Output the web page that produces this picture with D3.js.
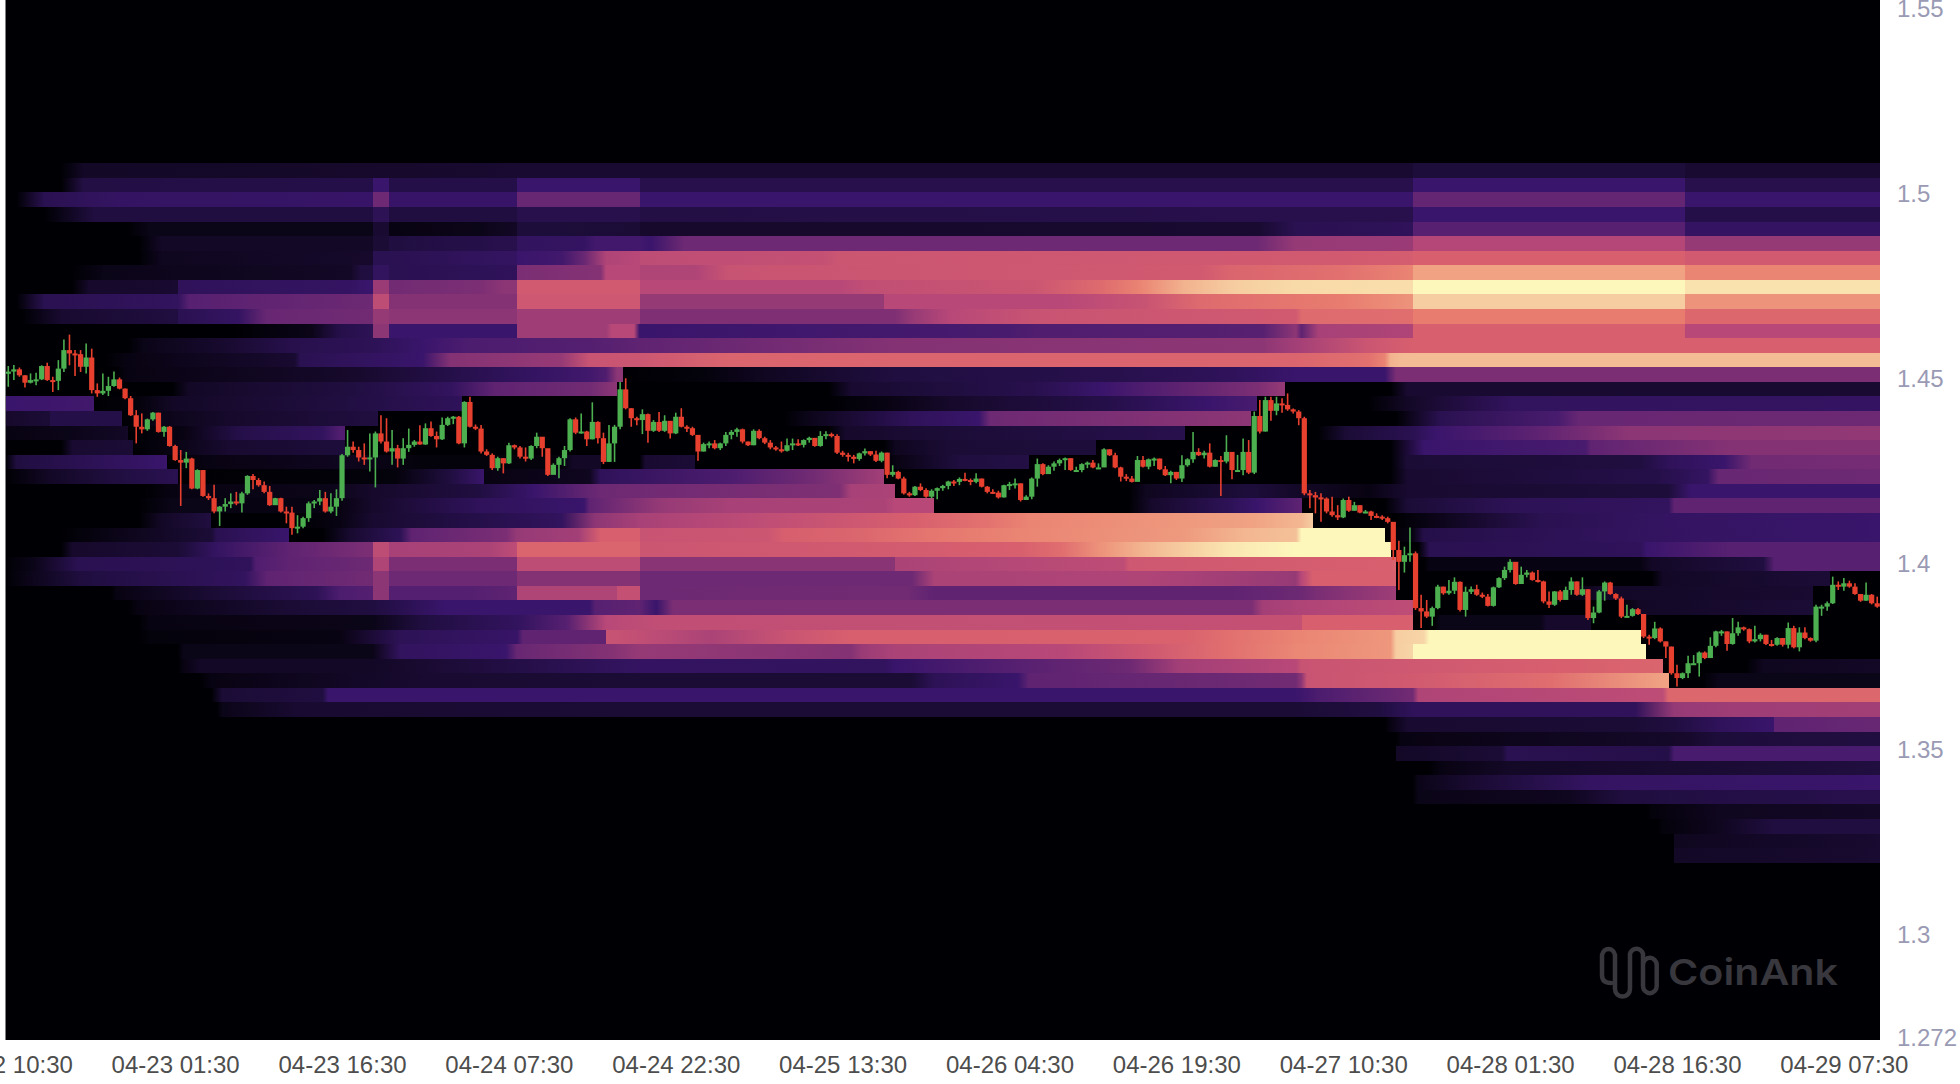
<!DOCTYPE html>
<html><head><meta charset="utf-8">
<script src="https://cdn.jsdelivr.net/npm/d3@7"></script>
<style>html,body{margin:0;padding:0;background:#fff;overflow:hidden}svg{display:block}text{font-family:"Liberation Sans",Arial,sans-serif}</style>
</head><body><svg id="c" width="1960" height="1084"></svg>
<script>
const priceTicks=[1.272,1.3,1.35,1.4,1.45,1.5,1.55];
const timeTickIdx=[0,30,60,90,120,150,180,210,240,270,300,330];
const timeTickLabels=["04-22 10:30","04-23 01:30","04-23 16:30","04-24 07:30","04-24 22:30","04-25 13:30","04-26 04:30","04-26 19:30","04-27 10:30","04-28 01:30","04-28 16:30","04-29 07:30"];
const heatLevels=[0,.05,.1,.2,.3,.4,.5,.6,.7,.8,.9,1];
const heatColors=["#000004","#130826","#200e40","#39156b","#5f2372","#8d3675","#b84878","#d75f6e","#e87c6f","#f0a283","#f6cda0","#fdf7bc"];
// price x 10000, one value per 30 min candle
const closes=[14526,14532,14516,14496,14503,14505,14541,14503,14501,14534,14584,14575,14573,14539,14564,14476,14467,14474,14487,14505,14480,14454,14408,14377,14370,14397,14415,14363,14377,14325,14287,14280,14291,14210,14260,14190,14184,14148,14161,14168,14175,14170,14197,14244,14233,14219,14201,14165,14184,14148,14145,14103,14107,14130,14170,14175,14184,14148,14161,14184,14300,14323,14314,14294,14291,14294,14359,14337,14310,14319,14291,14319,14328,14337,14329,14373,14352,14343,14382,14400,14404,14332,14444,14377,14372,14310,14301,14265,14292,14278,14327,14321,14296,14291,14325,14350,14319,14247,14274,14292,14314,14397,14361,14364,14343,14390,14346,14282,14332,14377,14478,14427,14400,14395,14411,14366,14390,14366,14393,14359,14404,14377,14373,14355,14310,14330,14332,14319,14332,14355,14363,14370,14337,14327,14366,14346,14334,14321,14316,14312,14327,14332,14328,14341,14347,14325,14352,14357,14352,14307,14301,14296,14290,14305,14311,14302,14285,14307,14247,14255,14237,14197,14192,14215,14206,14188,14204,14211,14217,14229,14228,14236,14233,14228,14237,14215,14201,14199,14186,14219,14222,14224,14179,14188,14237,14276,14249,14269,14278,14287,14292,14260,14260,14276,14280,14267,14267,14316,14300,14267,14242,14237,14228,14287,14269,14289,14291,14262,14246,14255,14237,14273,14289,14309,14300,14307,14269,14287,14283,14309,14260,14260,14309,14253,14406,14364,14449,14420,14440,14436,14424,14418,14400,14197,14192,14186,14183,14148,14138,14132,14179,14150,14165,14145,14148,14136,14134,14130,14120,14044,14012,14030,14035,13887,13878,13864,13887,13945,13927,13934,13958,13882,13931,13938,13923,13918,13893,13943,13968,13990,14012,13952,13977,13983,13963,13959,13905,13896,13932,13909,13936,13959,13923,13938,13860,13875,13932,13956,13925,13913,13864,13866,13884,13871,13810,13806,13832,13797,13783,13711,13698,13711,13738,13738,13767,13752,13785,13824,13824,13790,13819,13835,13830,13797,13803,13815,13790,13788,13806,13788,13833,13781,13821,13806,13799,13891,13891,13900,13950,13945,13954,13945,13925,13907,13923,13900,13891];
const highs=[14541,14544,14537,14516,14521,14523,14543,14550,14512,14557,14613,14626,14584,14584,14602,14588,14494,14521,14512,14526,14510,14480,14460,14422,14413,14399,14417,14415,14379,14379,14328,14314,14309,14293,14262,14258,14197,14220,14163,14184,14197,14201,14201,14246,14249,14238,14229,14217,14185,14185,14161,14161,14138,14134,14175,14179,14206,14201,14197,14208,14303,14368,14337,14323,14332,14359,14364,14408,14400,14368,14328,14346,14372,14341,14381,14386,14391,14364,14402,14404,14406,14406,14446,14458,14383,14382,14316,14305,14296,14292,14334,14329,14325,14321,14327,14361,14348,14316,14278,14296,14325,14400,14402,14413,14366,14443,14392,14361,14382,14382,14498,14508,14427,14404,14424,14413,14395,14417,14408,14391,14415,14427,14381,14377,14355,14334,14337,14341,14334,14363,14368,14374,14372,14337,14370,14370,14350,14341,14325,14337,14345,14345,14343,14343,14350,14345,14365,14365,14361,14357,14312,14307,14301,14307,14318,14311,14312,14310,14307,14273,14258,14242,14201,14217,14224,14211,14208,14213,14220,14231,14233,14240,14253,14237,14251,14237,14217,14208,14204,14220,14228,14237,14224,14192,14240,14291,14278,14273,14283,14291,14294,14292,14269,14278,14283,14287,14278,14319,14316,14307,14269,14249,14244,14298,14298,14291,14294,14291,14271,14258,14255,14300,14292,14363,14319,14312,14332,14289,14298,14354,14309,14301,14345,14341,14418,14449,14458,14458,14458,14454,14467,14426,14422,14404,14206,14201,14197,14186,14188,14165,14183,14188,14174,14165,14152,14150,14143,14138,14134,14103,14069,14053,14105,14040,13923,13909,13891,13950,13945,13963,13970,13959,13945,13945,13950,13929,13925,13945,13970,13999,14019,14006,13999,13990,13986,13990,13961,13932,13933,13936,13945,13970,13959,13970,13938,13891,13936,13959,13958,13927,13918,13896,13887,13887,13871,13815,13850,13835,13797,13783,13734,13713,13758,13760,13770,13770,13808,13826,13828,13824,13860,13850,13837,13832,13839,13819,13815,13801,13808,13806,13848,13839,13835,13835,13808,13896,13896,13905,13972,13959,13968,13961,13954,13925,13956,13925,13918];
const lows=[14485,14503,14512,14483,14494,14489,14503,14501,14471,14476,14525,14543,14514,14525,14521,14467,14458,14463,14460,14485,14478,14451,14406,14332,14359,14366,14393,14361,14350,14323,14285,14163,14265,14208,14208,14188,14179,14143,14109,14148,14157,14165,14145,14193,14208,14215,14197,14163,14170,14145,14116,14085,14089,14103,14120,14157,14165,14145,14143,14136,14177,14296,14307,14283,14274,14256,14213,14332,14307,14274,14267,14274,14309,14323,14328,14328,14350,14321,14341,14379,14384,14330,14321,14375,14368,14305,14298,14260,14258,14251,14276,14316,14291,14283,14287,14319,14296,14244,14249,14238,14271,14310,14357,14359,14325,14343,14332,14276,14282,14282,14370,14424,14377,14381,14357,14334,14363,14363,14363,14345,14357,14375,14363,14352,14285,14310,14319,14316,14314,14325,14343,14350,14332,14325,14327,14343,14330,14316,14312,14307,14310,14314,14325,14321,14334,14323,14323,14343,14348,14303,14296,14283,14278,14285,14299,14298,14282,14281,14238,14242,14235,14194,14188,14190,14203,14185,14183,14181,14204,14208,14217,14219,14230,14219,14224,14213,14197,14195,14183,14186,14206,14210,14175,14181,14181,14215,14246,14253,14258,14271,14260,14258,14257,14254,14265,14265,14264,14269,14298,14265,14229,14230,14226,14233,14267,14262,14271,14260,14244,14224,14233,14228,14269,14280,14298,14291,14267,14269,14190,14278,14235,14257,14246,14249,14249,14359,14364,14393,14408,14415,14420,14413,14381,14192,14157,14143,14120,14143,14134,14125,14130,14147,14150,14143,14143,14125,14130,14125,14116,14017,13936,13983,14012,13882,13833,13860,13839,13884,13923,13923,13925,13878,13864,13925,13920,13914,13891,13891,13941,13963,13983,13950,13952,13970,13961,13956,13900,13887,13893,13905,13911,13923,13920,13920,13855,13846,13873,13907,13923,13909,13860,13862,13864,13868,13806,13788,13803,13794,13752,13707,13675,13695,13698,13734,13702,13749,13754,13781,13812,13772,13788,13812,13826,13792,13794,13797,13787,13783,13785,13783,13778,13778,13770,13803,13796,13795,13866,13880,13898,13936,13934,13942,13923,13904,13907,13897,13888];
const firstOpen=14520;
// rows top to bottom; each row is candle index, heat level, candle index, heat level ...
const heatRows=[
[0,0,10,0,14,.05,66,.06,92,.07,253,.07,253,.09,302,.09,302,.07,337,.07],
[0,0,10,0,14,.11,66,.12,66,.2,69,.2,69,.12,92,.12,92,.2,114,.2,114,.13,253,.13,253,.2,302,.2,302,.13,337,.13],
[0,0,2,0,7,.14,20,.18,66,.19,66,.33,69,.33,69,.19,92,.19,92,.32,114,.32,114,.2,253,.2,253,.31,302,.31,302,.2,337,.2],
[0,0,7,0,16,.1,66,.1,66,.15,69,.15,69,.1,92,.1,92,.13,114,.13,114,.11,253,.13,253,.2,302,.2,302,.12,337,.12],
[0,0,22,0,26,.03,66,.03,66,.07,69,.07,69,.02,85,.03,92,.05,92,.09,114,.08,114,.06,225,.07,232,.14,253,.16,253,.28,302,.28,302,.18,337,.18],
[0,0,24,0,28,.05,66,.05,66,.08,69,.08,69,.1,92,.13,92,.17,104,.18,106,.22,114,.22,116,.2,122,.33,225,.33,232,.42,253,.43,253,.49,302,.49,302,.42,337,.42],
[0,0,24,0,28,.04,66,.06,66,.14,69,.14,92,.18,92,.2,100,.22,104,.32,108,.48,114,.5,114,.52,147,.54,150,.56,240,.58,253,.59,253,.6,302,.6,302,.58,337,.58],
[0,0,12,0,18,.03,62,.05,64,.1,66,.1,66,.17,69,.17,69,.14,92,.16,92,.36,107,.38,108,.5,114,.5,114,.48,124,.48,130,.55,215,.58,220,.62,240,.66,253,.72,253,.8,302,.8,302,.72,337,.72],
[0,0,12,0,15,.06,31,.07,31,.16,62,.18,65,.2,66,.2,66,.43,69,.43,69,.34,85,.36,90,.4,92,.4,92,.58,114,.58,114,.5,150,.5,155,.53,185,.56,197,.64,204,.72,212,.84,221,.9,232,.93,253,.94,253,1,302,1,302,.95,337,.95],
[0,0,2,0,7,.14,31,.17,33,.28,66,.33,66,.52,69,.52,69,.38,92,.38,92,.57,114,.57,114,.42,158,.42,158,.5,190,.5,205,.55,215,.64,240,.7,253,.76,253,.9,302,.9,302,.76,337,.76],
[0,0,3,0,10,.07,31,.1,31,.14,42,.18,47,.32,66,.34,66,.42,69,.42,69,.4,92,.4,92,.44,114,.44,114,.37,160,.37,163,.42,170,.5,185,.55,232,.58,233,.64,253,.65,253,.7,302,.7,302,.63,337,.63],
[0,0,41,0,55,.03,60,.12,66,.15,66,.4,69,.4,69,.2,92,.2,92,.44,108,.44,109,.5,113,.5,114,.2,180,.24,185,.26,226,.28,232,.4,233,.3,236,.46,253,.48,253,.6,302,.6,302,.5,337,.5],
[0,0,22,0,25,.03,40,.07,52,.13,66,.15,75,.2,83,.25,105,.27,114,.3,160,.38,226,.4,232,.45,245,.56,253,.6,337,.6],
[0,0,18,0,22,.02,52,.07,53,.14,75,.2,80,.38,100,.42,105,.55,114,.56,130,.62,232,.62,245,.66,248,.72,249,.84,251,.86,337,.86],
[0,0,20,0,22,.02,62,.06,80,.12,95,.18,105,.22,108,.26,110,.4,111,.4,111,0,125,.01,135,.04,160,.1,200,.13,220,.16,232,.2,248,.2,250,.36,337,.36],
[0,0,30,0,33,.05,62,.1,80,.17,88,.3,105,.34,110,.4,110,0,148,0,152,.07,165,.09,185,.13,197,.2,205,.26,225,.36,230,.42,230,0,249,0,252,.07,337,.07],
[0,.2,16,.22,16,0,24,.01,30,.05,60,.1,82,.16,82,0,148,0,158,.02,170,.06,198,.12,216,.2,225,.24,225,0,245,0,252,.05,271,.17,337,.18],
[0,.06,8,.08,8,.12,21,.12,21,0,28,.03,40,.06,67,.1,67,0,140,0,144,.03,163,.16,175,.2,177,.33,224,.4,224,0,250,0,258,.14,279,.24,283,.32,337,.33],
[0,.02,11,.03,22,.05,22,0,32,.02,42,.12,57,.17,60,.26,61,.26,61,0,148,0,151,.06,168,.08,212,.13,212,0,236,0,241,.08,253,.14,257,.2,276,.3,292,.4,337,.41],
[0,0,10,0,12,.07,23,.08,23,0,32,.03,40,.07,61,.09,61,0,158,0,160,.04,170,.08,196,.09,196,0,249,0,255,.2,284,.24,285,.3,310,.38,337,.38],
[0,0,2,.1,29,.2,29,0,36,.02,60,.04,75,.01,100,.01,102,.05,107,.05,107,0,114,0,115,.07,124,.08,124,0,158,0,160,.02,172,.1,184,.11,184,0,249,0,252,.08,294,.1,299,.16,309,.2,314,.34,337,.35],
[0,0,8,.05,20,.1,31,.14,31,0,70,.01,80,.1,86,.2,86,.02,105,.04,107,.16,130,.25,145,.34,158,.45,158,0,249,0,252,.07,297,.12,306,.18,308,.32,337,.33],
[0,0,25,0,30,.02,58,.03,66,.06,85,.1,95,.2,107,.33,150,.37,152,.46,160,.47,160,0,202,0,205,.04,224,.09,233,.05,245,.02,252,.07,299,.09,303,.2,337,.2],
[0,0,24,0,30,.03,37,.03,37,.02,60,.02,66,.06,85,.16,104,.2,105,.3,118,.42,130,.46,158,.47,160,.5,167,.5,167,0,202,0,206,.06,220,.15,225,.2,233,.3,233,0,248,0,252,.08,271,.15,299,.17,300,.3,337,.3],
[0,0,24,0,28,.05,37,.1,37,0,52,0,60,.02,66,.07,85,.12,100,.17,106,.4,114,.46,120,.48,135,.52,150,.56,163,.6,177,.67,184,.72,210,.77,224,.8,233,.85,235,.9,235,0,250,0,255,.02,276,.14,299,.18,337,.2],
[0,0,10,0,20,.03,37,.08,38,.14,51,.2,51,0,57,0,62,.07,71,.15,73,.3,90,.36,92,.42,103,.45,107,.6,114,.6,114,.55,137,.56,140,.6,152,.62,167,.68,182,.72,212,.78,223,.85,232,.87,233,1,248,1,248,0,253,.02,255,.12,300,.18,337,.2],
[0,0,10,0,12,.06,31,.08,38,.18,51,.3,65,.36,66,.36,66,.52,69,.52,69,.46,87,.47,92,.52,92,.62,114,.62,114,.56,152,.58,182,.6,190,.65,197,.76,205,.85,220,.96,232,1,249,1,249,0,254,0,256,.14,294,.16,295,.2,310,.28,337,.28],
[0,0,5,.03,13,.14,44,.16,45,.26,51,.3,66,.33,66,.48,69,.48,69,.36,92,.36,92,.52,114,.52,114,.39,160,.39,160,.47,201,.52,202,.57,249,.6,250,.62,250,0,255,0,256,.02,294,.02,296,.05,316,.1,318,.28,337,.28],
[0,0,4,.03,14,.1,43,.17,47,.3,66,.34,66,.4,69,.4,69,.33,92,.33,92,.38,114,.38,114,.33,163,.33,167,.47,205,.48,232,.42,233,.5,235,.6,250,.6,250,0,296,0,298,.05,328,.08,328,0,337,0],
[0,0,19,0,20,.02,38,.08,56,.15,60,.25,66,.27,66,.4,69,.4,69,.27,83,.27,92,.3,92,.48,110,.48,110,.54,114,.54,114,.33,162,.34,167,.3,220,.3,233,.33,236,.36,250,.44,250,0,280,0,286,.05,325,.07,325,0,337,0],
[0,0,22,0,24,.02,52,.08,66,.1,69,.12,79,.2,105,.2,106,.28,114,.3,117,.2,120,.36,224,.36,226,.45,233,.48,253,.52,253,0,290,0,294,.05,325,.08,325,0,337,0],
[0,0,24,0,26,.02,66,.03,75,.1,92,.17,101,.28,108,.5,114,.52,119,.53,233,.54,233,.6,253,.6,253,0,257,0,258,.03,276,.03,277,.06,285,.06,285,0,337,0],
[0,0,24,0,26,.01,60,.02,71,.15,92,.19,93,.3,108,.3,108,.55,114,.53,127,.47,140,.55,152,.6,212,.61,220,.66,232,.72,249,.77,250,.9,255,.92,256,1,294,1,294,0,337,0],
[0,0,31,0,32,.03,66,.03,71,.17,90,.2,92,.32,109,.38,114,.42,152,.38,154,.43,160,.47,190,.5,205,.57,220,.66,232,.73,249,.77,250,.9,253,.92,253,1,295,1,295,0,337,0],
[0,0,31,0,32,.02,35,.05,66,.05,97,.13,114,.18,158,.17,160,.2,182,.28,202,.33,211,.45,232,.5,233,.55,280,.6,298,.62,298,0,313,0,316,.04,337,.05],
[0,0,35,0,37,.02,75,.07,114,.08,163,.08,167,.15,182,.2,184,.3,232,.34,233,.4,234,.55,253,.58,278,.65,298,.8,299,.8,299,0,305,0,308,.03,337,.03],
[0,0,37,0,39,.08,57,.1,58,.2,232,.2,236,.25,253,.34,254,.48,298,.52,299,.63,337,.63],
[0,0,38,0,39,.03,52,.07,114,.08,232,.08,247,.1,253,.16,293,.16,300,.42,310,.44,337,.45],
[0,0,248,0,249,.02,252,.07,293,.08,300,.1,308,.16,318,.2,318,.3,337,.32],
[0,0,250,0,251,.02,293,.05,302,.06,308,.09,337,.1],
[0,0,250,0,250,.05,269,.08,270,.14,299,.12,300,.24,337,.24],
[0,0,256,0,258,.02,270,.05,297,.07,337,.1],
[0,0,253,0,254,.03,263,.07,278,.14,285,.18,337,.2],
[0,0,253,0,254,.03,281,.04,291,.1,337,.13],
[0,0,295,0,296,.01,308,.04,337,.05],
[0,0,297,0,298,.01,308,.04,318,.1,337,.1],
[0,0,300,0,300,.04,337,.07],
[0,0,300,0,300,.05,337,.07]
];
const candleCount=337, heatTopPrice=1.5089, heatBottomPrice=1.3199;

const svg=d3.select("#c");
const x=d3.scaleLinear().domain([0,candleCount]).range([5.5,1880]);
const y=d3.scaleLinear().domain([1.272,1.553]).range([1040,0]);
const color=d3.scaleLinear().domain(heatLevels).range(heatColors);
const rowY=d3.scaleBand().domain(d3.range(heatRows.length)).range([y(heatTopPrice),y(heatBottomPrice)]);

svg.append("rect").attr("x",x(0)).attr("y",y(1.553)).attr("width",x(candleCount)-x(0)).attr("height",y(1.272)-y(1.553)).attr("fill",color(0));

const defs=svg.append("defs");
heatRows.forEach((r,i)=>{
  const g=defs.append("linearGradient").attr("id","row"+i).attr("gradientUnits","userSpaceOnUse")
    .attr("x1",x(0)).attr("x2",x(candleCount)).attr("y1",0).attr("y2",0);
  for(let k=0;k<r.length;k+=2){
    g.append("stop").attr("offset",r[k]/candleCount).attr("stop-color",color(r[k+1]));
  }
});
svg.append("g").selectAll("rect").data(heatRows).join("rect")
  .attr("x",x(0)).attr("width",x(candleCount)-x(0))
  .attr("y",(d,i)=>rowY(i)).attr("height",rowY.bandwidth())
  .attr("shape-rendering","crispEdges")
  .attr("fill",(d,i)=>`url(#row${i})`);

const candles=closes.map((c,i)=>({i,close:c/1e4,open:(i?closes[i-1]:firstOpen)/1e4,high:highs[i]/1e4,low:lows[i]/1e4}));
const candleColor=d=>d.close>=d.open?"#4caf50":"#e8402f";
const cg=svg.append("g");
cg.selectAll("line").data(candles).join("line")
  .attr("x1",d=>x(d.i+.5)).attr("x2",d=>x(d.i+.5))
  .attr("y1",d=>y(d.high)).attr("y2",d=>y(d.low))
  .attr("stroke",candleColor).attr("stroke-width",1.6);
cg.selectAll("rect").data(candles).join("rect")
  .attr("x",d=>x(d.i+.5)-2.6).attr("width",5.2)
  .attr("y",d=>y(Math.max(d.open,d.close)))
  .attr("height",d=>Math.max(2,Math.abs(y(d.open)-y(d.close))))
  .attr("fill",candleColor);

const axisY=d3.axisRight(y).tickValues(priceTicks).tickSize(0).tickPadding(0).tickFormat(d=>String(d));
const gy=svg.append("g").attr("transform","translate(1897,-2)").call(axisY);
gy.select(".domain").remove();
gy.selectAll("text").attr("fill","#9a9ab4").attr("font-size",24).attr("font-family",'"Liberation Sans"');

const axisX=d3.axisBottom(x).tickValues(timeTickIdx.map(d=>d+.5)).tickSize(0).tickPadding(0).tickFormat((d,i)=>timeTickLabels[i]);
const gx=svg.append("g").attr("transform","translate(0,1056)").call(axisX);
gx.select(".domain").remove();
gx.selectAll("text").attr("fill","#4d4d4d").attr("font-size",24).attr("font-family",'"Liberation Sans"');

const wm=svg.append("g");
wm.append("path").attr("d","M1611,983 Q1602,983 1602,975 L1602,955 A6.7 8 0 0 1 1615,955 L1615,989 A7.5 7.5 0 0 0 1630,989 L1630,954 A6.7 7 0 0 1 1643,954 L1643,986 A6.7 7 0 0 0 1656.7,986 L1656.7,965 A6.7 7 0 0 0 1643,965")
  .attr("fill","none").attr("stroke","#37373d").attr("stroke-width",4.5).attr("stroke-linecap","round");
wm.append("text").attr("x",1668).attr("y",985).attr("fill","#37373d").attr("font-size",36).attr("font-weight",600)
  .style("font-family","Inter").attr("textLength",170).attr("lengthAdjust","spacingAndGlyphs").text("CoinAnk");
</script></body></html>
